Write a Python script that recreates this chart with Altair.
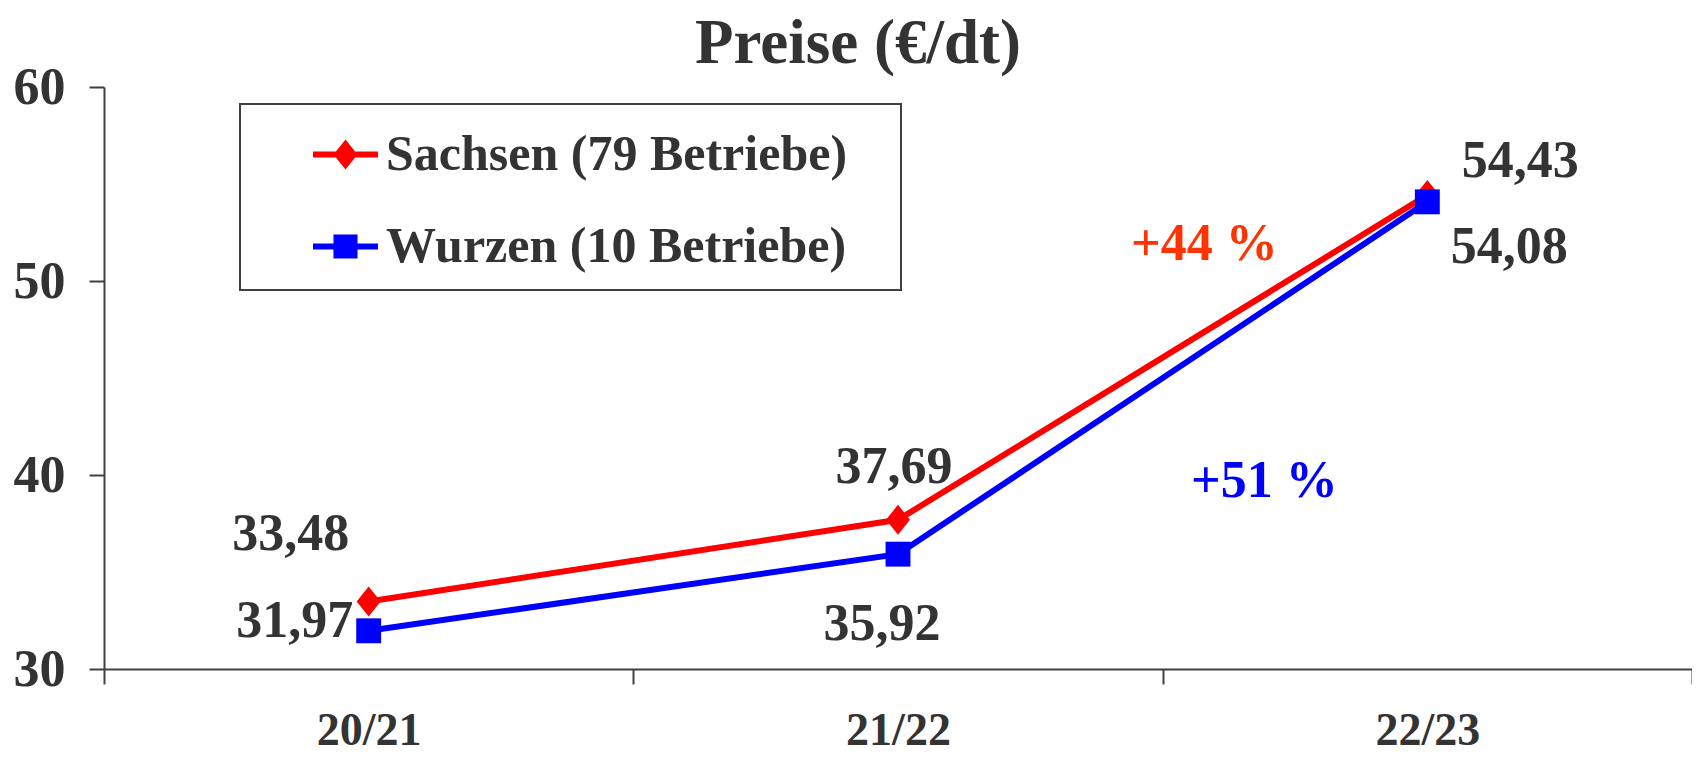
import altair as alt
import pandas as pd

periods = ["20/21", "21/22", "22/23"]
series_names = ["Sachsen (79 Betriebe)", "Wurzen (10 Betriebe)"]
sachsen = [33.48, 37.69, 54.43]
wurzen = [31.97, 35.92, 54.08]
y_ticks = [30, 40, 50, 60]
change_labels = ["+44 %", "+51 %"]

series_colors = ["#ff0000", "#0000ff"]
change_colors = ["#ff3300", "#0000ff"]

rows = []
for name, vals in zip(series_names, [sachsen, wurzen]):
    for p, v in zip(periods, vals):
        rows.append({"series": name, "period": p, "value": v,
                     "label": f"{v:.2f}".replace(".", ",")})
df = pd.DataFrame(rows)

FONT = "Liberation Serif"
TXT = "#333333"
AX = "#404040"

x_enc = alt.X(
    "period:N", sort=periods, bandPosition=0.5,
    scale=alt.Scale(type="band", domain=periods, paddingInner=0, paddingOuter=0),
    axis=alt.Axis(title=None, labelAngle=0, tickBand="extent", tickSize=15, tickWidth=2,
                  tickColor=AX, domainColor=AX, domainWidth=2, labelFont=FONT,
                  labelFontSize=46, labelFontWeight="bold", labelColor=TXT,
                  labelPadding=24, grid=False),
)
y_enc = alt.Y(
    "value:Q",
    scale=alt.Scale(domain=[30, 60], zero=False, nice=False),
    axis=alt.Axis(title=None, values=y_ticks, tickSize=15, tickWidth=2, tickColor=AX,
                  domainColor=AX, domainWidth=2, labelFont=FONT, labelFontSize=52,
                  labelFontWeight="bold", labelColor=TXT, labelPadding=24, grid=False),
)
color_scale = alt.Scale(domain=series_names, range=series_colors)

base = alt.Chart(df)

marker_paths = ["M-0.8,0L0,-1L0.8,0L0,1Z", "M-1,-1L1,-1L1,1L-1,1Z"]
marker_sizes = [900, 620]
lines = []
points = []
for name, path, sz, col in zip(series_names, marker_paths, marker_sizes, series_colors):
    sub = base.transform_filter(alt.datum.series == name)
    lines.append(sub.mark_line(strokeWidth=6, color=col).encode(x=x_enc, y=y_enc))
    points.append(
        sub.mark_point(shape=path, size=sz, filled=True, opacity=1, color=col, strokeWidth=0)
        .encode(x=x_enc, y=y_enc)
    )

label_offsets = [  # (series index, period index, dx, dy)
    (0, 0, -78, -67),
    (1, 0, -74, -10),
    (0, 1, -4, -53),
    (1, 1, -16, 70),
    (0, 2, 93, -34),
    (1, 2, 82, 45),
]
labels = []
for si, pi, dx, dy in label_offsets:
    labels.append(
        base.transform_filter(
            (alt.datum.series == series_names[si]) & (alt.datum.period == periods[pi])
        )
        .mark_text(font=FONT, fontSize=52, fontWeight="bold", color=TXT,
                   align="center", baseline="middle", dx=dx, dy=dy)
        .encode(x=x_enc, y=y_enc, text="label:N")
    )

change_offsets = [(0, -223, 49), (1, -163, 279)]
changes = []
for (si, dx, dy), txt, col in zip(change_offsets, change_labels, change_colors):
    changes.append(
        base.transform_filter(
            (alt.datum.series == series_names[si]) & (alt.datum.period == periods[2])
        )
        .mark_text(font=FONT, fontSize=52, fontWeight="bold", color=col,
                   align="center", baseline="middle", dx=dx, dy=dy)
        .encode(x=x_enc, y=y_enc, text=alt.value(txt))
    )

legend_paths = [
    "M-1,-0.09L1,-0.09L1,0.09L-1,0.09Z M-0.37,0L0,-0.46L0.37,0L0,0.46Z",
    "M-1,-0.09L1,-0.09L1,0.09L-1,0.09Z M-0.37,-0.37L0.37,-0.37L0.37,0.37L-0.37,0.37Z",
]
legend_obj = alt.Legend(
    title=None, orient="none", legendX=136, legendY=17, direction="vertical",
    padding=18, strokeColor=AX, fillColor="white", cornerRadius=0,
    symbolSize=4225, symbolStrokeWidth=0, symbolOffset=55, labelOffset=8, rowPadding=34,
    symbolOpacity=1,
    labelFont=FONT, labelFontSize=50, labelFontWeight="bold", labelColor=TXT,
    labelLimit=1000,
    labelExpr="datum.label + '\u2002\u2009\u200b'",
)
legend_layer = base.mark_point(filled=True, opacity=0, size=1).encode(
    x=x_enc, y=y_enc,
    color=alt.Color("series:N", scale=color_scale, legend=legend_obj),
    shape=alt.Shape("series:N", scale=alt.Scale(domain=series_names, range=legend_paths),
                    legend=legend_obj),
)

chart = alt.layer(*lines, *points, *labels, *changes, legend_layer).properties(
    width=1588,
    height=582,
    autosize=alt.AutoSizeParams(type="none"),
    padding={"left": 96, "top": 79, "right": 0, "bottom": 88},
    background="white",
    title=alt.TitleParams(
        text="Preise (€/dt)", fontSize=63, font=FONT, fontWeight="bold", color=TXT,
        anchor="middle", frame="group", dx=-40, offset=25, dy=40,
    ),
).configure_view(stroke=None).configure_legend(strokeWidth=2)

chart.save("out.html", embed_options={"renderer": "svg", "actions": False})
